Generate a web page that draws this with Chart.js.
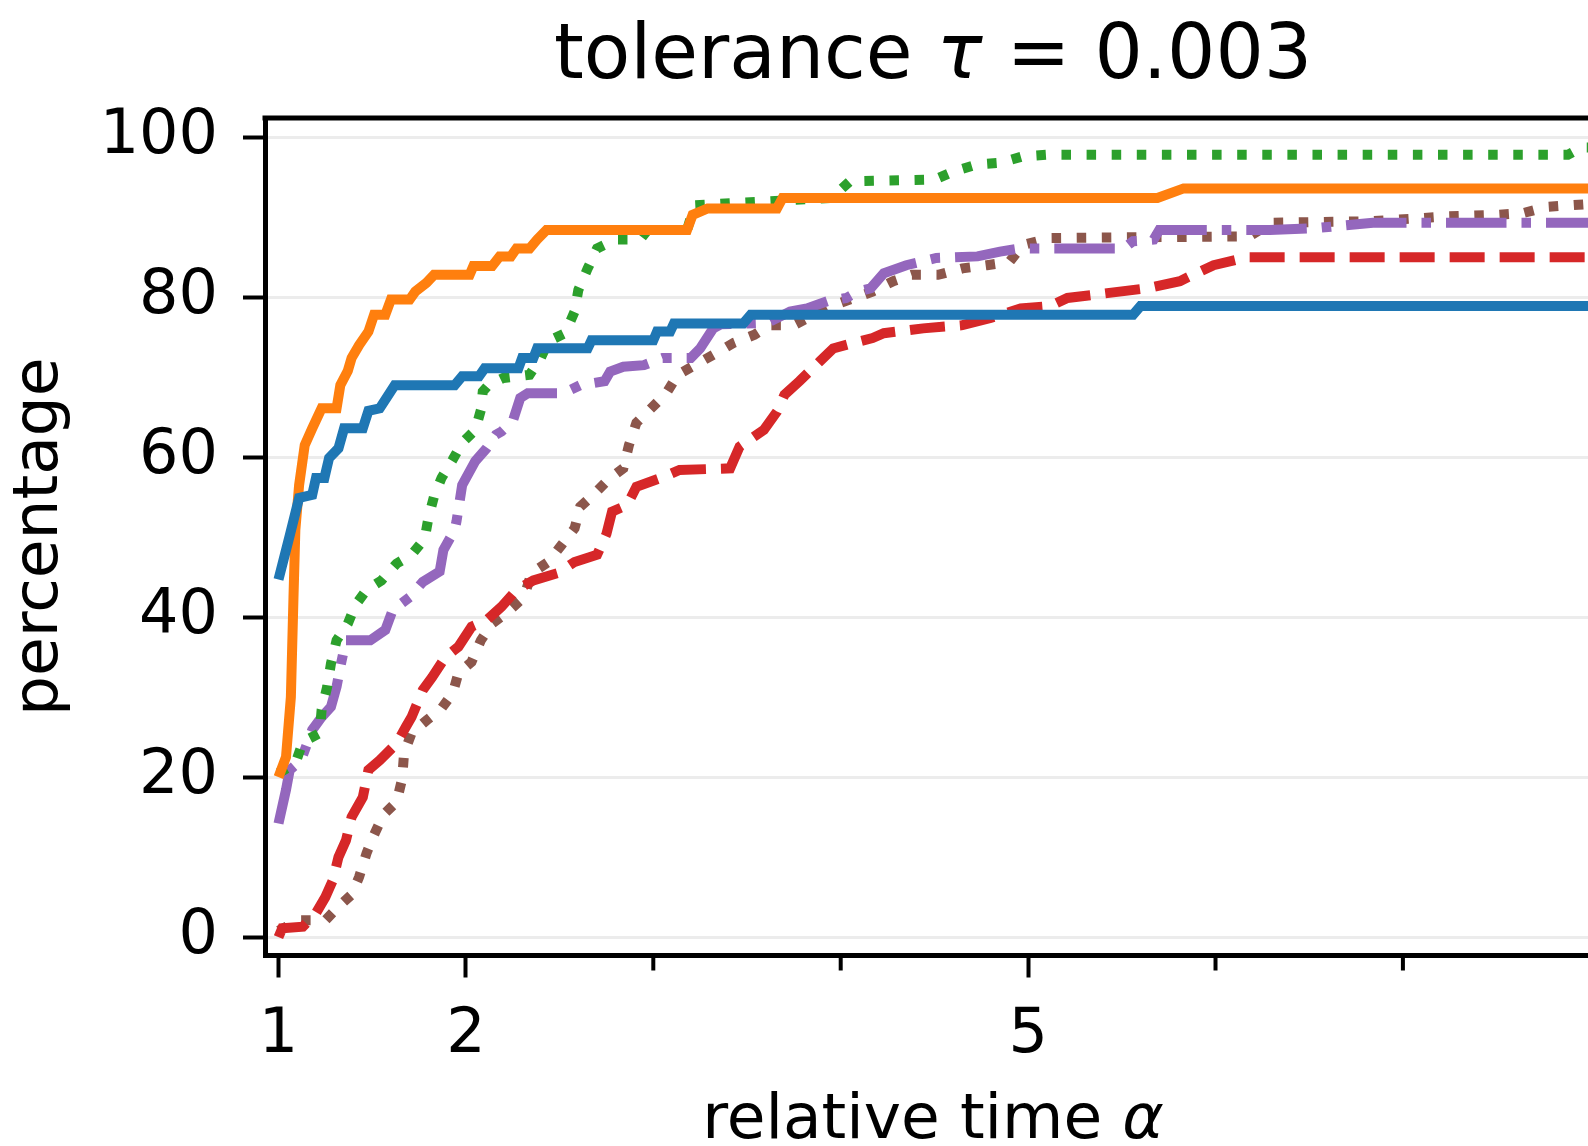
<!DOCTYPE html>
<html>
<head>
<meta charset="utf-8">
<title>tolerance 0.003</title>
<script src="https://cdn.jsdelivr.net/npm/chart.js@4.4.1/dist/chart.umd.min.js"></script>
<style>
  html, body { margin: 0; padding: 0; background: #fff; overflow: hidden; }
  #wrap { position: absolute; left: 0; top: 0; width: 1612px; height: 1146px; }
</style>
</head>
<body>
<div id="wrap"><canvas id="profile"></canvas></div>
<script>
// relative time alpha (x) and percentage (y)
const alphaBlue = [1.0, 1.06, 1.11, 1.18, 1.2, 1.245, 1.27, 1.32, 1.35, 1.45, 1.48, 1.54, 1.62, 1.94, 1.98, 2.07, 2.1, 2.28, 2.3, 2.36, 2.38, 2.65, 2.67, 3.0, 3.02, 3.09, 3.11, 3.48, 3.52, 5.56, 5.6, 8.1]
const pctBlue = [44.7, 50.2, 54.9, 55.3, 57.4, 57.4, 59.9, 61.1, 63.6, 63.6, 65.8, 66.1, 69.0, 69.0, 70.1, 70.1, 71.1, 71.1, 72.4, 72.4, 73.6, 73.6, 74.6, 74.6, 75.7, 75.7, 76.7, 76.7, 77.8, 77.8, 78.9, 78.9]

const alphaOrange = [1.0, 1.04, 1.066, 1.08, 1.09, 1.11, 1.14, 1.18, 1.23, 1.31, 1.33, 1.37, 1.39, 1.43, 1.48, 1.51, 1.57, 1.6, 1.7, 1.73, 1.79, 1.83, 2.02, 2.04, 2.14, 2.18, 2.24, 2.27, 2.34, 2.38, 2.43, 3.18, 3.21, 3.29, 3.66, 3.69, 5.69, 5.83, 8.1]
const pctOrange = [20.0, 22.5, 30.0, 42.5, 50.9, 56.5, 61.5, 63.6, 66.1, 66.1, 69.0, 70.8, 72.4, 74.0, 75.7, 77.8, 77.8, 79.7, 79.7, 80.7, 81.8, 82.8, 82.8, 83.9, 83.9, 85.1, 85.1, 86.1, 86.1, 87.2, 88.4, 88.4, 90.3, 91.1, 91.1, 92.4, 92.4, 93.6, 93.6]

const alphaGreen = [1.0, 1.09, 1.13, 1.22, 1.23, 1.26, 1.28, 1.31, 1.37, 1.41, 1.47, 1.55, 1.63, 1.71, 1.78, 1.8, 1.83, 1.87, 1.93, 1.98, 2.05, 2.08, 2.09, 2.12, 2.2, 2.34, 2.4, 2.44, 2.53, 2.58, 2.6, 2.65, 2.7, 2.8, 2.93, 2.97, 3.18, 3.22, 3.95, 4.05, 4.5, 4.6, 4.73, 4.85, 4.97, 5.1, 7.88, 7.95, 8.1]
const pctGreen = [20.5, 21.7, 24.4, 25.5, 28.4, 31.3, 34.2, 37.1, 39.2, 41.5, 43.4, 44.6, 46.7, 47.8, 49.8, 52.4, 55.1, 57.4, 59.7, 61.8, 63.4, 65.9, 68.2, 69.0, 69.9, 70.3, 72.4, 74.5, 75.5, 78.2, 80.9, 83.6, 86.1, 87.2, 87.2, 88.4, 88.4, 91.5, 92.4, 94.5, 94.7, 95.7, 96.6, 96.8, 97.6, 97.8, 97.8, 98.7, 98.7]

const alphaRed = [1.0, 1.02, 1.13, 1.2, 1.25, 1.29, 1.32, 1.36, 1.39, 1.45, 1.48, 1.54, 1.63, 1.68, 1.71, 1.77, 1.82, 1.89, 1.96, 2.03, 2.11, 2.19, 2.27, 2.36, 2.49, 2.58, 2.7, 2.75, 2.78, 2.86, 2.91, 3.04, 3.14, 3.41, 3.46, 3.59, 3.66, 3.7, 3.78, 3.89, 3.96, 4.07, 4.17, 4.23, 4.44, 4.65, 4.8, 4.96, 5.12, 5.21, 5.63, 5.81, 5.88, 5.99, 6.17, 8.1]
const pctRed = [0.0, 1.1, 1.3, 3.0, 5.0, 7.1, 10.0, 12.1, 15.0, 17.5, 20.9, 22.1, 24.2, 26.3, 27.5, 30.9, 32.5, 35.0, 36.3, 38.8, 39.6, 41.3, 43.4, 44.6, 45.5, 46.9, 47.8, 50.4, 53.2, 54.0, 56.3, 57.4, 58.4, 58.6, 61.3, 63.4, 65.7, 67.8, 69.5, 72.0, 73.6, 74.3, 74.9, 75.5, 76.1, 76.5, 77.4, 78.6, 78.9, 79.9, 81.1, 82.0, 82.8, 84.0, 85.0, 85.0]

const alphaPurple = [1.0, 1.04, 1.06, 1.12, 1.18, 1.23, 1.28, 1.31, 1.33, 1.36, 1.49, 1.57, 1.61, 1.7, 1.77, 1.86, 1.88, 1.94, 1.95, 1.98, 2.05, 2.11, 2.16, 2.19, 2.25, 2.29, 2.33, 2.52, 2.61, 2.74, 2.77, 2.84, 2.95, 3.05, 3.2, 3.25, 3.32, 3.36, 3.61, 3.73, 3.82, 3.93, 4.03, 4.09, 4.16, 4.23, 4.35, 4.51, 4.73, 4.85, 4.96, 5.51, 5.56, 5.67, 5.7, 6.29, 6.52, 6.84, 8.1]
const pctPurple = [14.2, 18.4, 20.9, 22.1, 25.9, 27.5, 28.8, 31.3, 33.8, 37.1, 37.1, 38.4, 40.9, 42.5, 44.4, 45.7, 48.4, 50.9, 52.0, 56.5, 59.5, 61.1, 62.8, 63.2, 64.5, 67.4, 68.0, 68.0, 69.0, 69.5, 70.7, 71.3, 71.5, 72.4, 72.4, 73.6, 76.1, 76.6, 76.8, 78.2, 78.6, 79.5, 79.9, 80.7, 81.1, 83.0, 84.0, 84.9, 85.1, 85.7, 86.1, 86.1, 87.0, 87.2, 88.4, 88.4, 88.6, 89.3, 89.3]

const alphaBrown = [1.0, 1.11, 1.25, 1.32, 1.39, 1.43, 1.47, 1.51, 1.56, 1.63, 1.66, 1.67, 1.71, 1.79, 1.87, 1.93, 1.96, 2.03, 2.08, 2.14, 2.22, 2.31, 2.35, 2.44, 2.51, 2.58, 2.61, 2.68, 2.76, 2.84, 2.87, 2.91, 2.98, 3.07, 3.13, 3.32, 3.43, 3.54, 3.62, 3.75, 3.94, 4.17, 4.28, 4.38, 4.52, 4.65, 4.78, 4.9, 4.97, 5.12, 6.18, 6.3, 6.84, 6.97, 7.24, 7.51, 7.64, 7.77, 7.9, 8.1]
const pctBrown = [0.8, 2.1, 2.1, 3.8, 5.3, 7.5, 10.5, 12.8, 15.3, 16.9, 19.8, 23.0, 25.5, 27.1, 28.6, 30.5, 33.0, 34.4, 37.1, 39.2, 40.6, 42.5, 45.5, 46.9, 49.0, 51.1, 53.8, 55.3, 57.2, 58.6, 61.5, 64.3, 65.9, 68.0, 70.3, 72.8, 74.3, 75.3, 76.5, 76.5, 78.8, 80.7, 82.0, 82.8, 82.8, 83.6, 84.0, 84.4, 86.5, 87.4, 87.6, 89.3, 89.5, 89.7, 90.1, 90.3, 90.5, 91.3, 91.5, 91.8]

const yTicks = [0, 20, 40, 60, 80, 100]
const xMajorTicks = [1, 2, 5]
const xMinorTicks = [3, 4, 6, 7, 8]

// text runs, the greek letters are italic like matplotlib mathtext
const titleRuns = [['tolerance ', false], ['τ', true], [' = 0.003', false]]
const xLabelRuns = [['relative time ', false], ['α', true]]

const toPoints = (xs, ys) => xs.map((x, i) => ({ x: x, y: ys[i] }))

const series = [
  { label: 'blue', xs: alphaBlue, ys: pctBlue, color: '#1f77b4', dash: [] },
  { label: 'orange', xs: alphaOrange, ys: pctOrange, color: '#ff7f0e', dash: [] },
  { label: 'green', xs: alphaGreen, ys: pctGreen, color: '#2ca02c', dash: [9.5, 15.6] },
  { label: 'red', xs: alphaRed, ys: pctRed, color: '#d62728', dash: [35, 15] },
  { label: 'purple', xs: alphaPurple, ys: pctPurple, color: '#9467bd', dash: [60.5, 15, 9.5, 15] },
  { label: 'brown', xs: alphaBrown, ys: pctBrown, color: '#8c564b', dash: [9.5, 15.6] }
]

const drawRuns = (ctx, runs, size, cx, baseline) => {
  const fontFor = it => (it ? 'italic ' : '') + size + "px 'DejaVu Sans', sans-serif"
  let total = 0
  runs.forEach(r => { ctx.font = fontFor(r[1]); total += ctx.measureText(r[0]).width })
  let x = cx - total / 2
  ctx.textAlign = 'left'
  ctx.textBaseline = 'alphabetic'
  ctx.fillStyle = '#000'
  runs.forEach(r => {
    ctx.font = fontFor(r[1])
    ctx.fillText(r[0], x, baseline)
    x += ctx.measureText(r[0]).width
  })
}

const frame = {
  id: 'frame',
  afterDraw(chart) {
    const { ctx, chartArea, scales } = chart
    ctx.save()
    ctx.strokeStyle = '#000'
    ctx.lineWidth = 5
    ctx.beginPath()
    ctx.moveTo(chartArea.left - 2.5, chartArea.top)
    ctx.lineTo(chartArea.right, chartArea.top)
    ctx.lineTo(chartArea.right, chartArea.bottom)
    ctx.stroke()
    ctx.lineWidth = 4
    xMinorTicks.forEach(v => {
      const px = scales.x.getPixelForValue(v)
      ctx.beginPath()
      ctx.moveTo(px, chartArea.bottom)
      ctx.lineTo(px, chartArea.bottom + 15)
      ctx.stroke()
    })
    const cx = (chartArea.left + chartArea.right) / 2
    drawRuns(ctx, titleRuns, 76, cx, chartArea.top - 40)
    drawRuns(ctx, xLabelRuns, 63, cx, chartArea.bottom + 182)
    ctx.restore()
  }
}

Chart.defaults.font.family = "'DejaVu Sans', sans-serif"
Chart.defaults.color = '#000'

const ctx = document.querySelector('#profile')
const profileChart = new Chart(ctx, {
  type: 'line',
  data: {
    datasets: series.map(s => ({
      label: s.label,
      data: toPoints(s.xs, s.ys),
      borderColor: s.color,
      borderWidth: 10,
      borderDash: s.dash,
      borderCapStyle: 'butt',
      borderJoinStyle: 'miter',
      pointRadius: 0,
      tension: 0,
      fill: false
    }))
  },
  options: {
    responsive: true,
    maintainAspectRatio: false,
    animation: false,
    layout: { padding: { left: 0, right: 11, top: 118, bottom: 0 } },
    plugins: {
      legend: { display: false },
      tooltip: { enabled: false },
      title: { display: false }
    },
    scales: {
      x: {
        type: 'linear',
        min: 0.928,
        max: 8.057,
        afterFit: s => { s.height = 190.5 },
        afterBuildTicks: s => {
          s.ticks = xMajorTicks.concat(xMinorTicks).sort((a, b) => a - b).map(v => ({ value: v }))
        },
        ticks: {
          autoSkip: false,
          maxRotation: 0,
          padding: 21,
          color: '#000',
          font: { size: 62 },
          callback: v => xMajorTicks.includes(v) ? String(v) : ''
        },
        grid: {
          drawOnChartArea: false,
          tickLength: 22,
          tickWidth: 4,
          tickColor: c => xMajorTicks.includes(c.tick.value) ? '#000' : 'rgba(0,0,0,0)'
        },
        border: { color: '#000', width: 5 },
        title: { display: false }
      },
      y: {
        min: -2.3,
        max: 102.4,
        afterFit: s => { s.width = 265 },
        afterBuildTicks: s => { s.ticks = yTicks.map(v => ({ value: v })) },
        ticks: {
          autoSkip: false,
          padding: 25,
          color: '#000',
          font: { size: 62 }
        },
        grid: {
          color: '#ececec',
          lineWidth: 3,
          tickLength: 22,
          tickWidth: 4,
          tickColor: '#000'
        },
        border: { color: '#000', width: 5 },
        title: {
          display: true,
          text: 'percentage',
          color: '#000',
          font: { size: 63, lineHeight: 1 },
          padding: { top: 9.5, bottom: 0 }
        }
      }
    }
  },
  plugins: [frame]
})
</script>
</body>
</html>
